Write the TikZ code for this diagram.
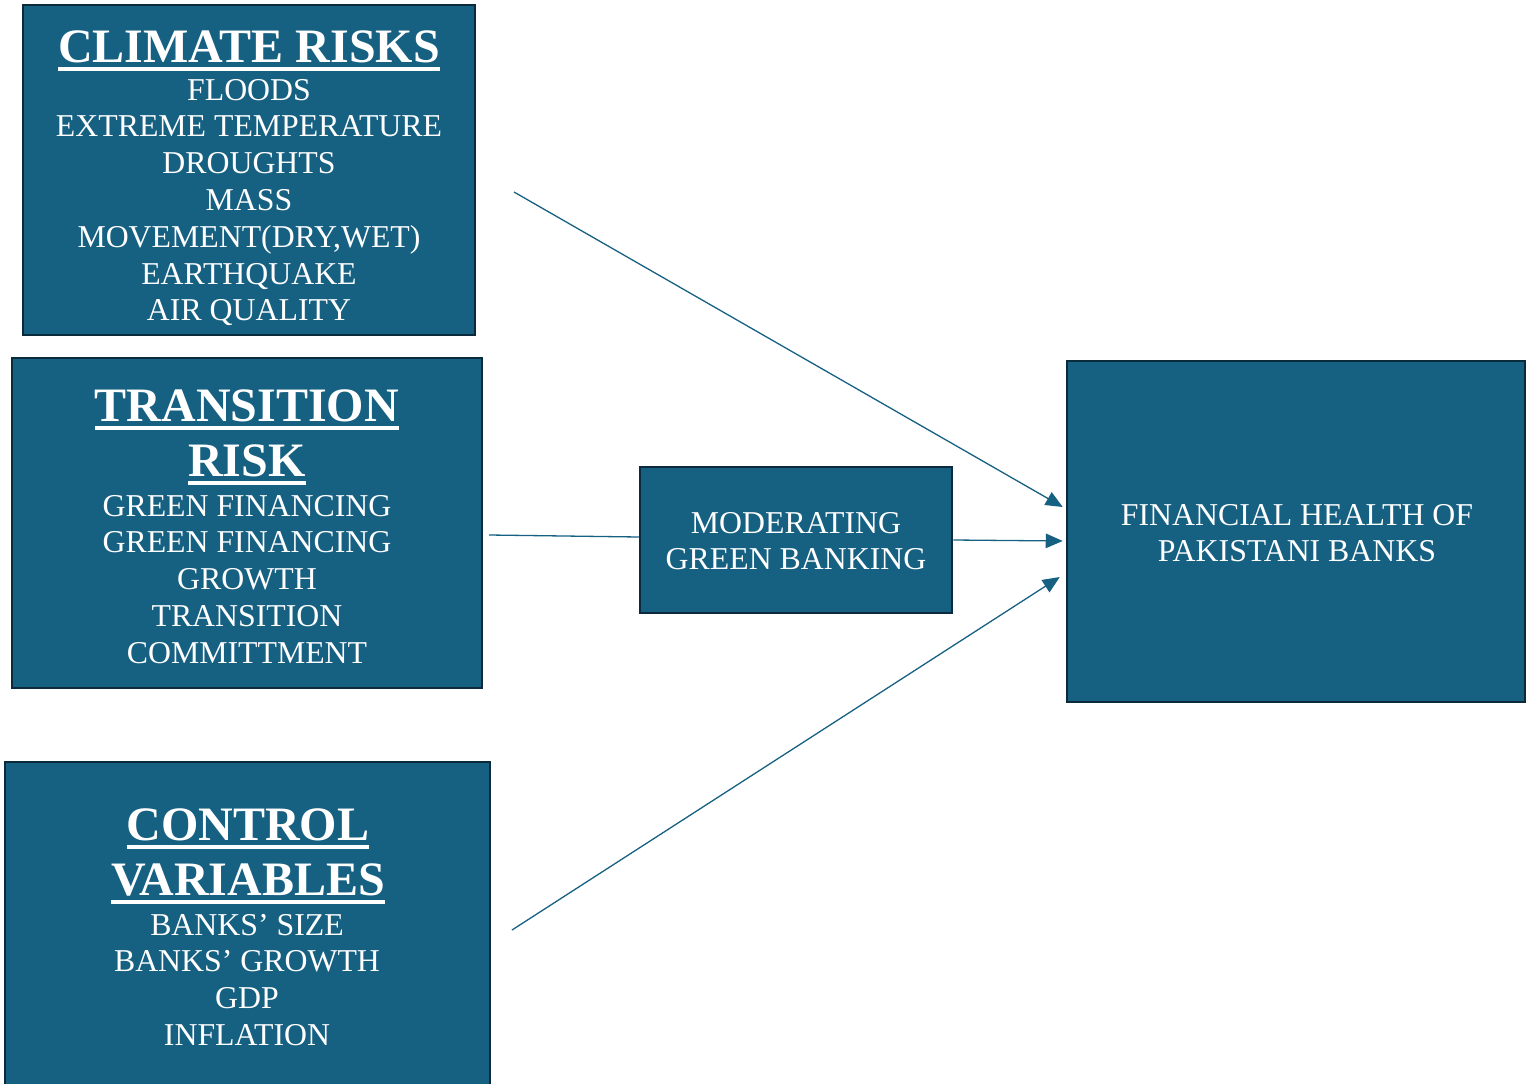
\documentclass[tikz,border=0pt]{standalone}
\usepackage{fontspec}
\setmainfont{Liberation Serif}
\usetikzlibrary{arrows.meta}

\definecolor{boxfill}{HTML}{166082}
\definecolor{boxedge}{HTML}{0B2A3C}
\definecolor{linkcol}{HTML}{166082}

% underlined heading: text with a thick rule just below its baseline
\newsavebox\hdbox
\newcommand\hdul[1]{\sbox\hdbox{#1}\rlap{\usebox\hdbox}\rule[-9pt]{\wd\hdbox}{4pt}}

\begin{document}
\begin{tikzpicture}[x=1pt,y=-1pt,
  panel/.style={draw=boxedge, line width=2.5pt, fill=boxfill, rectangle, inner sep=0pt},
  bodytext/.style={text=white, inner sep=0pt, anchor=base, font=\fontsize{31.8}{37}\selectfont},
  headtext/.style={text=white, inner sep=0pt, anchor=base, font=\fontsize{48}{55}\selectfont\bfseries},
  link/.style={draw=linkcol, line width=1.3pt},
  arrowlink/.style={link, -{Triangle[length=17pt,width=14.5pt]}}]

\useasboundingbox (0,0) rectangle (1527,1084);
\clip (0,0) rectangle (1527,1084);

% boxes
\node[panel, minimum width=452pt, minimum height=330pt] (climate) at (249,170) {};
\node[panel, minimum width=470pt, minimum height=330pt] (transition) at (247,523) {};
\node[panel, minimum width=485pt, minimum height=338pt] (control) at (247.5,931) {};
\node[panel, minimum width=312pt, minimum height=146pt] (moderating) at (796,540) {};
\node[panel, minimum width=458pt, minimum height=341pt] (health) at (1296,531.5) {};

% climate risks
\node[headtext] (climateHead) at (249,62) {\hdul{CLIMATE RISKS}};
\foreach \t [count=\i] in {FLOODS, EXTREME TEMPERATURE, DROUGHTS, MASS,
    {MOVEMENT(DRY,WET)}, EARTHQUAKE, AIR QUALITY}
  \node[bodytext] (climate\i) at (249,{100+(\i-1)*36.8}) {\t};

% transition risk
\node[headtext] (transHeadA) at (247,421) {\hdul{TRANSITION}};
\node[headtext] (transHeadB) at (247,476) {\hdul{RISK}};
\foreach \t [count=\i] in {GREEN FINANCING, GREEN FINANCING, GROWTH, TRANSITION, COMMITTMENT}
  \node[bodytext] (trans\i) at (247,{516+(\i-1)*36.75}) {\t};

% control variables
\node[headtext] (ctrlHeadA) at (248,840) {\hdul{CONTROL}};
\node[headtext] (ctrlHeadB) at (248,895) {\hdul{VARIABLES}};
\foreach \t [count=\i] in {BANKS’ SIZE, BANKS’ GROWTH, GDP, INFLATION}
  \node[bodytext] (ctrl\i) at (247,{935+(\i-1)*36.7}) {\t};

% moderator and outcome
\node[bodytext] (modA) at (796,533) {MODERATING};
\node[bodytext] (modB) at (796,569) {GREEN BANKING};
\node[bodytext] (healthA) at (1297,525) {FINANCIAL HEALTH OF};
\node[bodytext] (healthB) at (1297,561) {PAKISTANI BANKS};

% connector ends
\coordinate (fromClimate) at (514,192);
\coordinate (fromTrans) at (489,535);
\coordinate (fromCtrl) at (512,930);
\coordinate (toHealthA) at ([shift={(-3,-24.5)}]health.west);
\coordinate (toHealthB) at ([shift={(-3,9.5)}]health.west);
\coordinate (toHealthC) at ([shift={(-6,45.5)}]health.west);

% connectors
\draw[arrowlink] (fromClimate) -- (toHealthA);
\draw[link] (fromTrans) -- ([yshift=3pt]moderating.west);
\draw[arrowlink] (moderating.east) -- (toHealthB);
\draw[arrowlink] (fromCtrl) -- (toHealthC);
\end{tikzpicture}
\end{document}
